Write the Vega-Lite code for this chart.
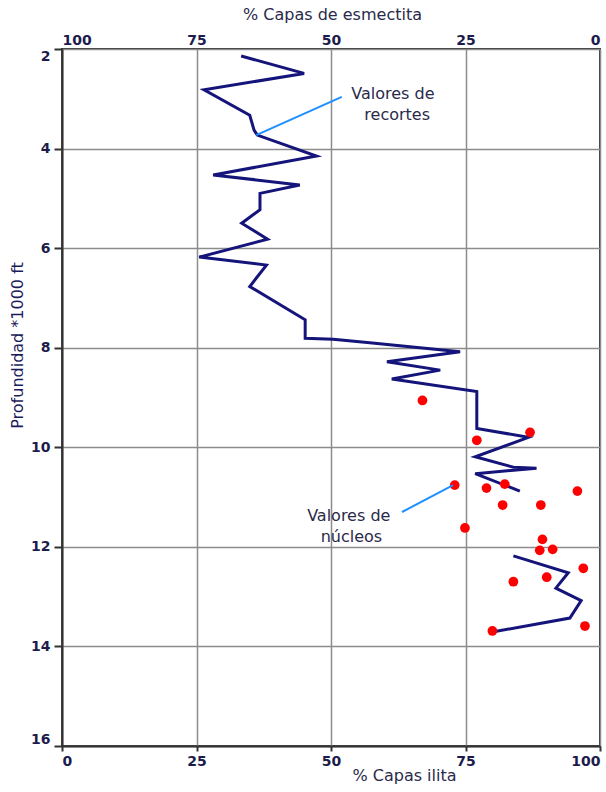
{
  "$schema": "https://vega.github.io/schema/vega-lite/v6.json",
  "autosize": "none",
  "width": 538,
  "height": 697,
  "padding": {"left": 62, "top": 49, "right": 6, "bottom": 46},
  "background": "white",
  "config": {
    "view": {"stroke": "#333333", "strokeWidth": 2},
    "font": "DejaVu Sans"
  },
  "datasets": {
    "recortes": [
      {"seg": 1, "ilita": 33.3, "prof": 2.14},
      {"seg": 1, "ilita": 45.0, "prof": 2.49},
      {"seg": 1, "ilita": 26.4, "prof": 2.82},
      {"seg": 1, "ilita": 34.9, "prof": 3.33},
      {"seg": 1, "ilita": 35.7, "prof": 3.63},
      {"seg": 1, "ilita": 36.3, "prof": 3.73},
      {"seg": 1, "ilita": 47.3, "prof": 4.15},
      {"seg": 1, "ilita": 28.1, "prof": 4.53},
      {"seg": 1, "ilita": 44.2, "prof": 4.73},
      {"seg": 1, "ilita": 36.8, "prof": 4.90},
      {"seg": 1, "ilita": 36.8, "prof": 5.23},
      {"seg": 1, "ilita": 33.4, "prof": 5.50},
      {"seg": 1, "ilita": 38.2, "prof": 5.82},
      {"seg": 1, "ilita": 25.5, "prof": 6.18},
      {"seg": 1, "ilita": 38.0, "prof": 6.34},
      {"seg": 1, "ilita": 34.9, "prof": 6.77},
      {"seg": 1, "ilita": 45.2, "prof": 7.44},
      {"seg": 1, "ilita": 45.2, "prof": 7.81},
      {"seg": 1, "ilita": 50.4, "prof": 7.83},
      {"seg": 1, "ilita": 57.2, "prof": 7.90},
      {"seg": 1, "ilita": 74.0, "prof": 8.08},
      {"seg": 1, "ilita": 60.4, "prof": 8.28},
      {"seg": 1, "ilita": 70.3, "prof": 8.45},
      {"seg": 1, "ilita": 61.3, "prof": 8.63},
      {"seg": 1, "ilita": 77.1, "prof": 8.88},
      {"seg": 1, "ilita": 77.1, "prof": 9.62},
      {"seg": 1, "ilita": 86.7, "prof": 9.80},
      {"seg": 1, "ilita": 76.8, "prof": 10.19},
      {"seg": 1, "ilita": 83.9, "prof": 10.40},
      {"seg": 1, "ilita": 88.2, "prof": 10.42},
      {"seg": 1, "ilita": 76.8, "prof": 10.53},
      {"seg": 1, "ilita": 85.1, "prof": 10.88},
      {"seg": 2, "ilita": 83.9, "prof": 12.18},
      {"seg": 2, "ilita": 94.1, "prof": 12.52},
      {"seg": 2, "ilita": 91.8, "prof": 12.83},
      {"seg": 2, "ilita": 96.5, "prof": 13.08},
      {"seg": 2, "ilita": 94.4, "prof": 13.43},
      {"seg": 2, "ilita": 80.5, "prof": 13.70}
    ],
    "nucleos": [
      {"ilita": 67.0, "prof": 9.06},
      {"ilita": 87.0, "prof": 9.70},
      {"ilita": 77.1, "prof": 9.86},
      {"ilita": 73.0, "prof": 10.76},
      {"ilita": 78.9, "prof": 10.82},
      {"ilita": 82.3, "prof": 10.74},
      {"ilita": 95.8, "prof": 10.88},
      {"ilita": 81.9, "prof": 11.16},
      {"ilita": 89.0, "prof": 11.16},
      {"ilita": 74.9, "prof": 11.62},
      {"ilita": 89.3, "prof": 11.85},
      {"ilita": 88.8, "prof": 12.07},
      {"ilita": 91.2, "prof": 12.05},
      {"ilita": 96.9, "prof": 12.43},
      {"ilita": 83.9, "prof": 12.70},
      {"ilita": 90.1, "prof": 12.61},
      {"ilita": 97.2, "prof": 13.59},
      {"ilita": 80.0, "prof": 13.69}
    ],
    "guias": [
      {"x1": 36.1, "y1": 3.73, "x2": 52.0, "y2": 2.96},
      {"x1": 63.2, "y1": 11.30, "x2": 72.7, "y2": 10.76}
    ],
    "etiquetas": [
      {"x": 61.5, "y": 2.90, "t": "Valores de"},
      {"x": 62.3, "y": 3.32, "t": "recortes"},
      {"x": 53.3, "y": 11.38, "t": "Valores de"},
      {"x": 53.8, "y": 11.80, "t": "núcleos"}
    ]
  },
  "resolve": {"axis": {"x": "independent"}},
  "layer": [
    {
      "data": {"name": "recortes"},
      "mark": {"type": "line", "color": "#14147a", "strokeWidth": 3, "strokeJoin": "miter"},
      "encoding": {
        "x": {
          "field": "ilita", "type": "quantitative",
          "scale": {"domain": [0, 100], "nice": false},
          "axis": {
            "orient": "bottom", "values": [0, 25, 50, 75, 100],
            "title": "% Capas ilita",
            "titleFontSize": 16, "titleFontWeight": "normal", "titleColor": "#2a2a4a",
            "titleX": 342, "titleY": 21, "titleBaseline": "top",
            "labelFontSize": 14, "labelFontWeight": "bold", "labelColor": "#1c1c4c",
            "labelAlign": {"expr": "datum.value == 0 ? 'left' : datum.value == 100 ? 'right' : 'center'"},
            "labelPadding": 3,
            "domainColor": "#333333", "domainWidth": 2,
            "tickColor": "#333333", "tickSize": 5, "tickWidth": 2,
            "grid": true, "gridColor": "#8c8c8c", "gridWidth": 1.5
          }
        },
        "y": {
          "field": "prof", "type": "quantitative",
          "scale": {"domain": [2, 16], "reverse": true, "nice": false},
          "axis": {
            "values": [2, 4, 6, 8, 10, 12, 14, 16],
            "title": "Profundidad *1000 ft",
            "titleFontSize": 16, "titleFontWeight": "normal", "titleColor": "#1c1c5c",
            "titleX": -37, "titleY": 296, "titleAngle": 270, "titleAlign": "center", "titleBaseline": "bottom",
            "labelFontSize": 14, "labelFontWeight": "bold", "labelColor": "#1c1c4c",
            "labelFlush": true, "labelPadding": 4,
            "domainColor": "#333333", "domainWidth": 2,
            "tickColor": "#333333", "tickSize": 8, "tickWidth": 2,
            "grid": true, "gridColor": "#8c8c8c", "gridWidth": 1.5
          }
        },
        "detail": {"field": "seg", "type": "nominal"},
        "order": {"field": "prof", "type": "quantitative"}
      }
    },
    {
      "data": {"name": "nucleos"},
      "mark": {"type": "point", "shape": "circle", "filled": true, "color": "#ff0000", "size": 95, "opacity": 1},
      "encoding": {
        "x": {
          "field": "ilita", "type": "quantitative",
          "axis": {
            "orient": "top", "values": [0, 25, 50, 75, 100],
            "labelExpr": "format(100 - datum.value, 'd')",
            "title": "% Capas de esmectita",
            "titleFontSize": 16, "titleFontWeight": "normal", "titleColor": "#2a2a4a",
            "titleX": 270, "titleY": -35, "titleBaseline": "middle",
            "labelFontSize": 14, "labelFontWeight": "bold", "labelColor": "#1c1c4c",
            "labelFlush": true, "labelPadding": 2,
            "ticks": false, "domain": false, "grid": false
          }
        },
        "y": {"field": "prof", "type": "quantitative"}
      }
    },
    {
      "data": {"name": "guias"},
      "mark": {"type": "rule", "color": "#1e8fff", "strokeWidth": 2},
      "encoding": {
        "x": {"field": "x1", "type": "quantitative", "axis": null},
        "y": {"field": "y1", "type": "quantitative"},
        "x2": {"field": "x2"},
        "y2": {"field": "y2"}
      }
    },
    {
      "data": {"name": "etiquetas"},
      "mark": {"type": "text", "fontSize": 16, "color": "#2a2a4a", "align": "center", "baseline": "middle"},
      "encoding": {
        "x": {"field": "x", "type": "quantitative", "axis": null},
        "y": {"field": "y", "type": "quantitative"},
        "text": {"field": "t"}
      }
    }
  ]
}
